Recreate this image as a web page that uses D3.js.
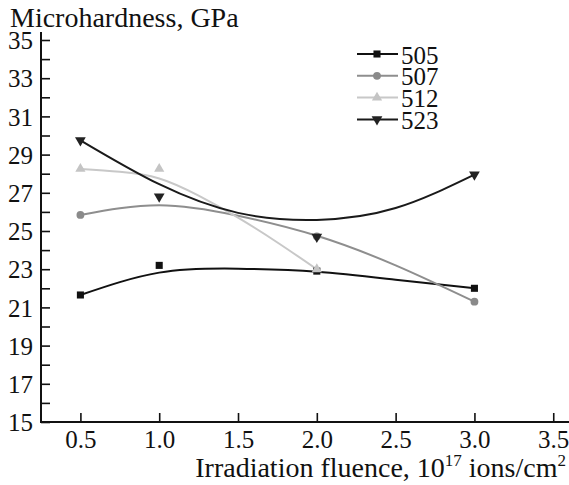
<!DOCTYPE html>
<html lang="en">
<head>
    <meta charset="UTF-8">
    <title>Microhardness vs fluence</title>
    <script src="https://d3js.org/d3.v7.min.js"></script>
    <style>
        body { margin: 0; background: #fff; }
        svg text { font-family: "Liberation Serif", "Times New Roman", serif; fill: #111; }
    </style>
</head>
<body>
    <div id="container"></div>
    <script>
        // data
        const series = ["505", "507", "512", "523"];

        // measured points (fluence, microhardness)
        const x505 = [0.5, 1.0, 2.0, 3.0];
        const y505 = [21.65, 23.2, 22.9, 22.0];
        const x507 = [0.5, 2.0, 3.0];
        const y507 = [25.84, 24.72, 21.3];
        const x512 = [0.5, 1.0, 2.0];
        const y512 = [28.25, 28.25, 23.0];
        const x523 = [0.5, 1.0, 2.0, 3.0];
        const y523 = [29.75, 26.8, 24.7, 27.95];

        // trend curves
        const fitX = [0.5, 1.0, 1.5, 2.0, 2.5, 3.0];
        const fit505 = [21.65, 22.82, 23.03, 22.87, 22.45, 22.0];
        const fit507 = [25.84, 26.35, 25.8, 24.75, 23.2, 21.3];
        const fit523 = [29.75, 27.45, 25.95, 25.58, 26.2, 27.95];
        const fitX512 = [0.5, 0.75, 1.0, 1.25, 1.5, 1.75, 2.0];
        const fit512 = [28.25, 28.1, 27.75, 26.85, 25.7, 24.4, 23.0];

        const xTicks = [0.5, 1.0, 1.5, 2.0, 2.5, 3.0, 3.5];
        const yTicks = d3.range(15, 36, 1);

        const W = 569, H = 485;
        const FONT = '"Liberation Serif", "Times New Roman", serif';
        const svg = d3.select("#container").append("svg")
            .attr("width", W).attr("height", H);

        const x = d3.scaleLinear().domain([0.25, 3.6]).range([41, 569]);
        const y = d3.scaleLinear().domain([15, 35]).range([422, 40]);

        // axes
        svg.append("g")
            .attr("transform", "translate(41,0)")
            .call(d3.axisLeft(y).tickValues(yTicks)
                .tickFormat(d => d % 2 ? d : "")
                .tickSizeInner(-9).tickSizeOuter(0).tickPadding(8))
            .call(g => g.select(".domain").remove())
            .call(g => g.selectAll("line").attr("stroke", "#111").attr("stroke-width", 1.6))
            .call(g => g.selectAll("text").attr("font-size", 25).attr("fill", "#111")
                .attr("font-family", FONT).attr("dy", "0.35em"));

        svg.append("g")
            .attr("transform", "translate(0,422)")
            .call(d3.axisBottom(x).tickValues(xTicks)
                .tickFormat(d3.format(".1f"))
                .tickSizeInner(-9).tickSizeOuter(0).tickPadding(8))
            .call(g => g.select(".domain").remove())
            .call(g => g.selectAll("line").attr("stroke", "#111").attr("stroke-width", 1.6))
            .call(g => g.selectAll("text").attr("font-size", 25).attr("fill", "#111")
                .attr("font-family", FONT));

        // axis lines
        svg.append("line").attr("x1", 41).attr("x2", 41).attr("y1", 32).attr("y2", 423)
            .attr("stroke", "#111").attr("stroke-width", 2);
        svg.append("line").attr("x1", 40).attr("x2", 569).attr("y1", 422).attr("y2", 422)
            .attr("stroke", "#111").attr("stroke-width", 2);

        // titles
        svg.append("text").attr("x", 10).attr("y", 27).attr("font-size", 28)
            .attr("font-family", FONT)
            .text("Microhardness, GPa");

        const xl = svg.append("text").attr("x", 566).attr("y", 477)
            .attr("font-family", FONT)
            .attr("font-size", 28).attr("text-anchor", "end");
        xl.append("tspan").text("Irradiation fluence, 10");
        xl.append("tspan").attr("font-size", 17).attr("dy", -11).text("17");
        xl.append("tspan").attr("dy", 11).text(" ions/cm");
        xl.append("tspan").attr("font-size", 17).attr("dy", -11).text("2");

        // series styles
        const colors = { "505": "#111", "507": "#8a8a8a", "512": "#c4c4c4", "523": "#222" };
        const lineCol = { "505": "#111", "507": "#8e8e8e", "512": "#c8c8c8", "523": "#1a1a1a" };
        const shapes = {
            "505": d3.symbolSquare,
            "507": d3.symbolCircle,
            "512": d3.symbolTriangle,
            "523": d3.symbolTriangle
        };
        const sizes = { "505": 50, "507": 48, "512": 45, "523": 50 };

        const points = {
            "505": x505.map((v, i) => [v, y505[i]]),
            "507": x507.map((v, i) => [v, y507[i]]),
            "512": x512.map((v, i) => [v, y512[i]]),
            "523": x523.map((v, i) => [v, y523[i]])
        };
        const fits = {
            "505": fitX.map((v, i) => [v, fit505[i]]),
            "507": fitX.map((v, i) => [v, fit507[i]]),
            "512": fitX512.map((v, i) => [v, fit512[i]]),
            "523": fitX.map((v, i) => [v, fit523[i]])
        };

        const line = d3.line()
            .x(d => x(d[0])).y(d => y(d[1]))
            .curve(d3.curveNatural);

        // trend lines
        svg.append("g").selectAll("path")
            .data(series)
            .enter().append("path")
            .attr("d", s => line(fits[s]))
            .attr("fill", "none")
            .attr("stroke", s => lineCol[s])
            .attr("stroke-width", 2);

        // markers
        function marker(sel, s) {
            sel.attr("d", d3.symbol().type(shapes[s]).size(sizes[s]))
                .attr("fill", colors[s]);
        }

        series.forEach(s => {
            svg.append("g").selectAll("path")
                .data(points[s])
                .enter().append("path")
                .call(marker, s)
                .attr("transform", d => `translate(${x(d[0])},${y(d[1])})` + (s === "523" ? " rotate(180)" : ""));
        });

        // legend
        const legend = svg.append("g").selectAll("g")
            .data(series)
            .enter().append("g")
            .attr("transform", (s, i) => `translate(0,${54 + i * 21.8})`);

        legend.append("line")
            .attr("x1", 357).attr("x2", 398).attr("y1", 0).attr("y2", 0)
            .attr("stroke", s => lineCol[s]).attr("stroke-width", 2);
        legend.append("path")
            .each(function(s) { d3.select(this).call(marker, s); })
            .attr("transform", s => "translate(377,0)" + (s === "523" ? " rotate(180)" : ""));
        legend.append("text")
            .attr("x", 401).attr("y", 0).attr("dy", "0.38em")
            .attr("font-family", FONT)
            .attr("font-size", 25)
            .text(s => s);
    </script>
</body>
</html>
